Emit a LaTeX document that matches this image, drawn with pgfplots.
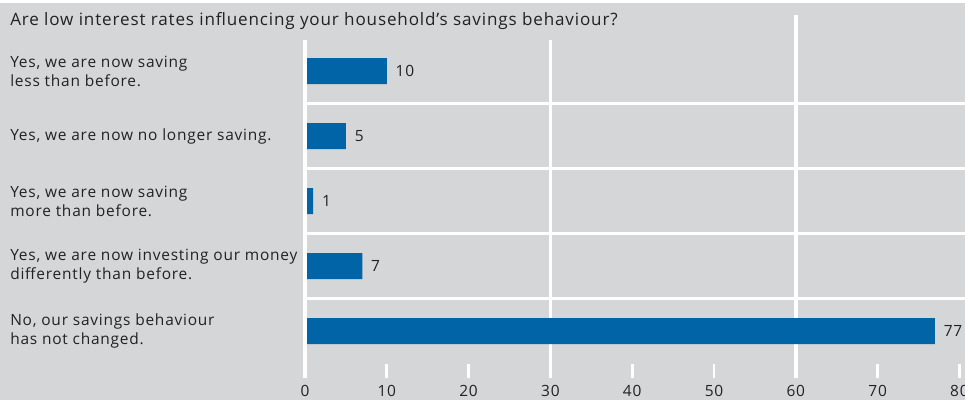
\documentclass[border=0pt]{standalone}
\usepackage{fontspec}
\setmainfont{Open Sans}[LetterSpace=5]
\usepackage{pgfplots}
\pgfplotsset{compat=1.18}
\definecolor{bg}{HTML}{D5D6D8}
\definecolor{bar}{HTML}{0064A6}
\definecolor{txt}{HTML}{222222}
\begin{document}
\begin{tikzpicture}[x=0.75pt,y=0.75pt]
\fill[bg] (0,0) rectangle (965,397);
\node[anchor=base west, inner sep=0, text=txt, font=\fontsize{12.8}{14}\selectfont] at (10,374) {Are low interest rates influencing your household’s savings behaviour?};
\begin{axis}[
  at={(228.75pt,16.5pt)}, anchor=south west,
  scale only axis, width=495pt, height=253.5pt,
  xmin=0, xmax=80.68, ymin=-0.723, ymax=4.477,
  axis line style={draw=none}, tick style={draw=none}, clip=false,
  xbar, bar width=19.5pt,
  xtick={0,10,...,80}, ytick={0,1,2,3,4},
  yticklabels={{No, our savings behaviour\\[2.3pt]has not changed.},{Yes, we are now investing our money\\[2.3pt]differently than before.},{Yes, we are now saving\\[2.3pt]more than before.},{Yes, we are now no longer saving.},{Yes, we are now saving\\[2.3pt]less than before.}},
  major tick length=0pt,
  yticklabel style={anchor=west, align=left, inner sep=0pt, xshift=-221.25pt, text=txt, font=\fontsize{11.6}{12}\selectfont},
  xticklabel style={anchor=base, inner sep=0pt, yshift=-14.25pt, text=txt, font=\fontsize{11.6}{12}\selectfont},
  /pgf/number format/assume math mode=true,
  nodes near coords, point meta=x,
  nodes near coords style={anchor=west, inner sep=0pt, xshift=6.5pt, text=txt, font=\fontsize{11.6}{12}\selectfont},
]
% grid beneath bars
\draw[white, line width=2.8pt] (axis cs:30,-0.723) -- (axis cs:30,4.477);
\draw[white, line width=2.8pt] (axis cs:60,-0.723) -- (axis cs:60,4.862);
\draw[white, line width=2.2pt] (axis cs:10,-0.723) -- (axis cs:10,-0.508);
\draw[white, line width=2.2pt] (axis cs:20,-0.723) -- (axis cs:20,-0.508);
\draw[white, line width=2.2pt] (axis cs:40,-0.723) -- (axis cs:40,-0.508);
\draw[white, line width=2.2pt] (axis cs:50,-0.723) -- (axis cs:50,-0.508);
\draw[white, line width=2.2pt] (axis cs:70,-0.723) -- (axis cs:70,-0.508);
\draw[white, line width=2.2pt] (axis cs:80,-0.723) -- (axis cs:80,-0.508);
\draw[white, line width=2.4pt] (axis cs:0,0.5) -- (axis cs:80.68,0.5);
\draw[white, line width=2.4pt] (axis cs:0,1.5) -- (axis cs:80.68,1.5);
\draw[white, line width=2.4pt] (axis cs:0,2.5) -- (axis cs:80.68,2.5);
\draw[white, line width=2.4pt] (axis cs:0,3.5) -- (axis cs:80.68,3.5);
\addplot[fill=bar, draw=none] coordinates {(77,0) (7,1) (1,2) (5,3) (10,4)};
\draw[white, line width=3.6pt] (axis cs:0,-0.723) -- (axis cs:0,4.477);
\end{axis}
\pgfresetboundingbox
\useasboundingbox (0,0) rectangle (965,400);
\end{tikzpicture}
\end{document}
